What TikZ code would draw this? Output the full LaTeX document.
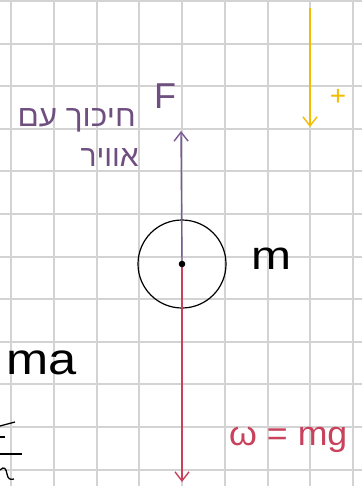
\documentclass[tikz,border=0pt]{standalone}
\usepackage{fontspec}
\setmainfont{Liberation Sans}
\newfontfamily\hebfont[Script=Hebrew]{Liberation Sans}
\TeXXeTstate=1
\usetikzlibrary{arrows.meta}
\definecolor{gridgray}{HTML}{D3D3D3}
\definecolor{fpurple}{HTML}{7B5A92}
\definecolor{tpurple}{HTML}{6E4F80}
\definecolor{wred}{HTML}{C9415B}
\definecolor{ayellow}{HTML}{F2BD00}
\tikzset{
  gridline/.style={draw=gridgray, line width=2pt},
  vec/.style={line width=1.4pt, -{Straight Barb[length=9pt,width=14pt,line width=1.4pt]}},
  hand/.style={inner sep=0pt},
  heb/.style={inner sep=0pt, text=tpurple, font=\hebfont\fontsize{30}{32}\selectfont},
}
\begin{document}
\begin{tikzpicture}[x=1pt, y=-1pt]
\useasboundingbox (0,0) rectangle (362,486);
\fill[white] (0,0) rectangle (362,486);
% grid
\foreach \i in {0,...,8} \draw[gridline] (11+42.75*\i,0) -- (11+42.75*\i,486);
\foreach \j in {0,...,11} \draw[gridline] (0,1+42.6*\j) -- (362,1+42.6*\j);
% mass
\coordinate (c) at (182,264);
\node[draw, circle, line width=1.2pt, minimum size=88pt, inner sep=0pt] (mass) at (c) {};
\coordinate (ftip) at (181,131);
\coordinate (wtip) at (182,482);
\draw[vec, fpurple] (c) -- (ftip);
\draw[vec, wred] (c) -- (wtip);
\fill (c) circle (3.3pt);
% yellow direction arrow
\coordinate (ys) at (310,8);
\coordinate (ye) at (310,127);
\draw[vec, ayellow] (ys) -- (ye);
\node[hand, text=ayellow, font=\fontsize{28}{30}\selectfont] (plus) at (338,97) {+};
% labels
\node[hand, text=tpurple, font=\fontsize{36}{38}\selectfont] (F) at (165,96) {F};
\node[heb, anchor=east, xscale=1.05] (heb1) at (136,120) {\beginR חיכוך עם\endR};
\node[heb, anchor=east] (heb2) at (139,158) {\beginR אוויר\endR};
\node[hand, font=\fontsize{40}{42}\selectfont, xscale=1.2] (mlab) at (271,259) {m};
\node[hand, anchor=west, font=\fontsize{44}{46}\selectfont, xscale=1.15] (ma) at (6,363) {ma};
\node[hand, text=wred, font=\fontsize{34}{36}\selectfont, anchor=west, xscale=1.05] (wlab) at (229,440) {ω = mg};
% cut-off fragments at left edge
\draw[line width=1.3pt] (0,426) -- (15,422);
\draw[line width=1.3pt] (0,437) -- (5,437);
\draw[line width=1.3pt] (0,454) -- (22,454);
\draw[line width=1.3pt] (0,470) .. controls (4,466) and (6,468) .. (7,474) .. controls (8,479) and (10,480) .. (14,479);
\end{tikzpicture}
\end{document}
